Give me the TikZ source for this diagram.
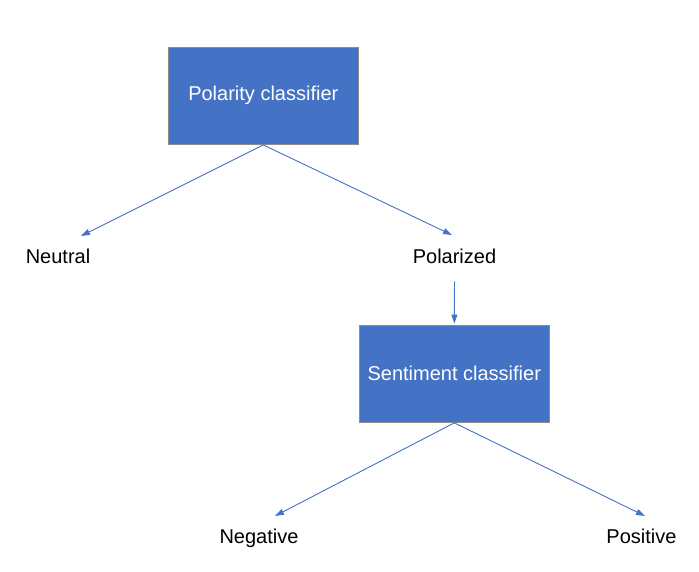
\documentclass[tikz,border=0pt]{standalone}
\usepackage{fontspec}
\setmainfont{Liberation Sans}
\usepackage{tikz}
\usetikzlibrary{arrows.meta,positioning,calc}
\usepackage{xcolor}
\definecolor{clfblue}{RGB}{68,114,196}
\definecolor{clfborder}{RGB}{140,140,140}

\begin{document}
\begin{tikzpicture}[
  x=1pt, y=-1pt,
  every node/.style={font=\fontsize{20}{24}\selectfont},
  clf/.style={draw=clfborder, line width=1.3pt, fill=clfblue, text=white, minimum width=190pt, minimum height=97pt, align=center},
  lbl/.style={anchor=base, inner sep=4pt},
  arr/.style={-{Triangle[length=9pt, width=6pt]}, clfblue, line width=0.9pt},
]
\useasboundingbox (0,0) rectangle (699,572);
\node[clf] (polarity) at (263.3,95.8) {Polarity classifier};
\node[clf] (sentiment) at (454.3,373.7) {Sentiment classifier};
\node[lbl] (neutral) at (58,264) {Neutral};
\node[lbl] (polarized) at (454.5,264) {Polarized};
\node[lbl] (negative) at (259,543) {Negative};
\node[lbl] (positive) at (641.5,543) {Positive};
\coordinate (neutralTip) at (81,236);
\coordinate (polarizedTip) at (452,235);
\coordinate (negativeTip) at (275,516);
\coordinate (positiveTip) at (645,516);
\draw[arr] (polarity.south) -- (neutralTip);
\draw[arr] (polarity.south) -- (polarizedTip);
\draw[arr, shorten <=13pt, shorten >=1pt] (polarized) -- (sentiment);
\draw[arr] (sentiment.south) -- (negativeTip);
\draw[arr] (sentiment.south) -- (positiveTip);
\end{tikzpicture}
\end{document}
